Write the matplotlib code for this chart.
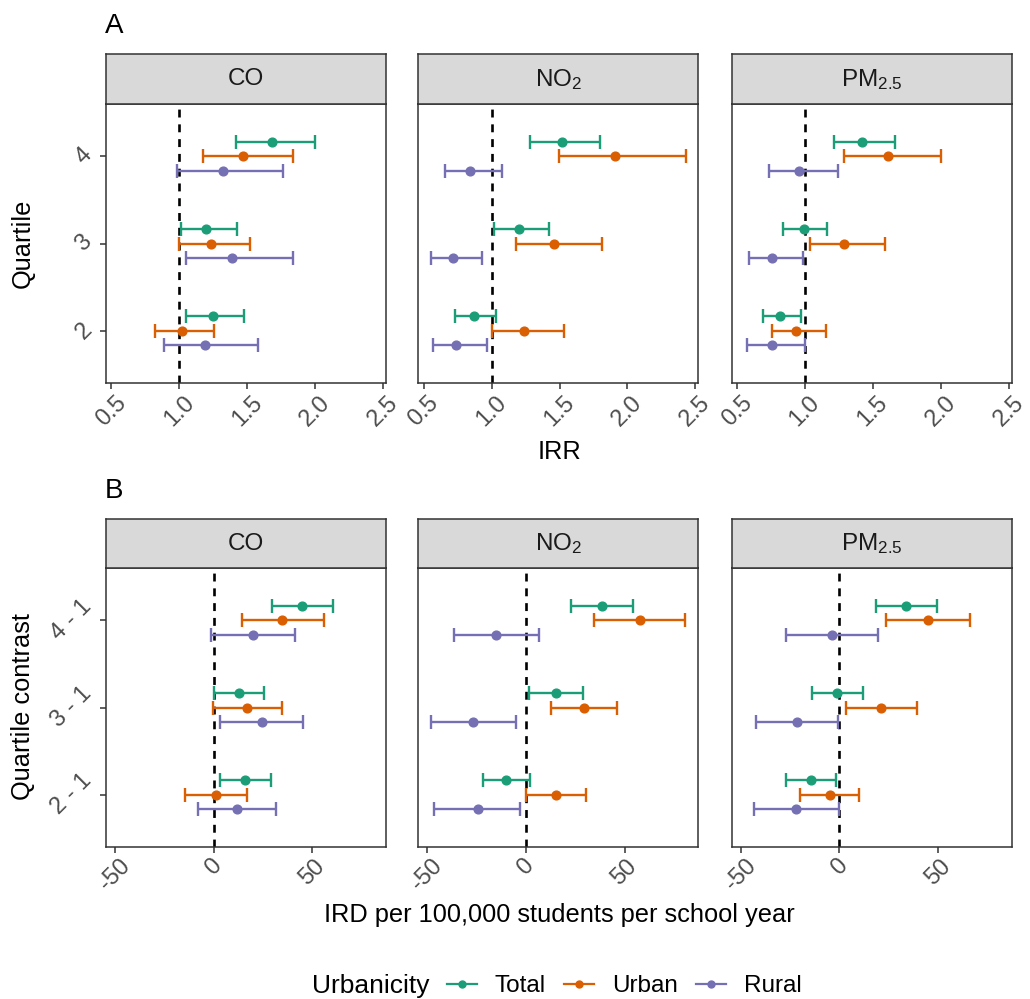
import matplotlib
matplotlib.use('Agg')
import matplotlib.pyplot as plt
import matplotlib.transforms as mtransforms
from matplotlib.lines import Line2D
import numpy as np

plt.rcParams['font.family'] = ['Liberation Sans', 'DejaVu Sans']
plt.rcParams['mathtext.fontset'] = 'custom'
plt.rcParams['mathtext.rm'] = 'Liberation Sans'
plt.rcParams['mathtext.default'] = 'regular'

# categories
pollutants = ['CO', 'NO$_2$', 'PM$_{2.5}$']
groups = ['Total', 'Urban', 'Rural']
colors = ['#1B9E77', '#D95F02', '#7570B3']
quartile_labels = ['2', '3', '4']
contrast_labels = ['2 - 1', '3 - 1', '4 - 1']

# panel A: IRR, rows = quartile 2,3,4 ; cols = Total, Urban, Rural
irr_co_est = [[1.247, 1.017, 1.19], [1.197, 1.232, 1.385], [1.679, 1.469, 1.321]]
irr_co_lo = [[1.052, 0.822, 0.889], [1.01, 0.997, 1.05], [1.417, 1.173, 0.985]]
irr_co_hi = [[1.479, 1.256, 1.58], [1.424, 1.519, 1.837], [2.0, 1.837, 1.76]]

irr_no2_est = [[0.868, 1.24, 0.74], [1.203, 1.458, 0.718], [1.517, 1.907, 0.843]]
irr_no2_lo = [[0.73, 1.004, 0.566], [1.019, 1.176, 0.554], [1.282, 1.493, 0.659]]
irr_no2_hi = [[1.029, 1.532, 0.965], [1.424, 1.813, 0.931], [1.796, 2.431, 1.076]]

irr_pm_est = [[0.818, 0.936, 0.757], [0.99, 1.287, 0.757], [1.421, 1.61, 0.954]]
irr_pm_lo = [[0.691, 0.757, 0.576], [0.841, 1.039, 0.588], [1.216, 1.289, 0.735]]
irr_pm_hi = [[0.973, 1.152, 0.998], [1.164, 1.59, 0.988], [1.664, 2.002, 1.243]]

# panel B: IRD, rows = contrast 2-1, 3-1, 4-1
ird_co_est = [[16.0, 1.0, 11.8], [13.0, 16.9, 24.3], [44.8, 34.8, 19.9]]
ird_co_lo = [[3.4, -14.7, -8.0], [0.3, -0.2, 3.4], [29.7, 14.2, -1.2]]
ird_co_hi = [[28.9, 16.9, 31.6], [25.6, 34.6, 45.3], [60.3, 55.8, 41.1]]

ird_no2_est = [[-9.9, 15.4, -24.5], [15.2, 29.3, -26.6], [38.4, 57.6, -15.0]]
ird_no2_lo = [[-21.9, 0.2, -46.8], [1.7, 12.5, -48.1], [22.7, 34.7, -36.5]]
ird_no2_hi = [[2.0, 30.2, -3.0], [29.0, 46.2, -5.2], [54.4, 80.8, 6.6]]

ird_pm_est = [[-14.3, -4.7, -21.7], [-1.0, 21.2, -21.5], [33.8, 45.0, -3.7]]
ird_pm_lo = [[-26.8, -19.7, -43.4], [-13.6, 3.2, -42.4], [18.5, 23.4, -26.8]]
ird_pm_hi = [[-1.5, 10.1, -0.2], [12.1, 39.1, -0.5], [49.5, 66.4, 19.4]]

W, H = 1030, 999
fig = plt.figure(figsize=(W / 100, H / 100), dpi=100)

col_x = [106, 418.3, 731.7]
col_w = 280
grey = '#4D4D4D'
dodge = [0.167, 0.0, -0.167]


def fx(px):
    return px / W


def fy(py):
    return 1 - py / H


def draw_row(top_strip, top_plot, bottom_plot, data, ref, xlim, xticks, xticklabels, ylabels):
    axes = []
    for i, (est, lo, hi) in enumerate(data):
        ax = fig.add_axes([fx(col_x[i]), fy(bottom_plot), col_w / W, (bottom_plot - top_plot) / H])
        sax = fig.add_axes([fx(col_x[i]), fy(top_plot), col_w / W, (top_plot - top_strip) / H])
        sax.set_facecolor('#D9D9D9')
        sax.set_xticks([])
        sax.set_yticks([])
        for s in sax.spines.values():
            s.set_color('#333333')
            s.set_linewidth(1.1)
        sax.text(0.5, 0.5, pollutants[i], ha='center', va='center', fontsize=17.5,
                 color='#1A1A1A', transform=sax.transAxes)

        ax.axvline(ref, color='black', linestyle=(0, (3, 2.6)), linewidth=1.9, zorder=1)
        est = np.array(est)
        lo = np.array(lo)
        hi = np.array(hi)
        for g in range(3):
            y = np.arange(1, 4) + dodge[g]
            ax.errorbar(est[:, g], y, xerr=[est[:, g] - lo[:, g], hi[:, g] - est[:, g]],
                        fmt='o', color=colors[g], markersize=6.3, capsize=5, elinewidth=1.7,
                        capthick=1.7, zorder=3)
        ax.set_xlim(xlim)
        ax.set_ylim(0.4, 3.6)
        ax.set_xticks(xticks)
        ax.set_xticklabels(xticklabels, rotation=45, fontsize=17, color=grey, ha='center')
        offset = mtransforms.ScaledTranslation(10 / 100, 0, fig.dpi_scale_trans)
        for lab in ax.get_xticklabels():
            lab.set_transform(lab.get_transform() + offset)
        ax.set_yticks([1, 2, 3])
        if i == 0:
            ax.set_yticklabels(ylabels, rotation=45, fontsize=17, color=grey, va='center')
            ax.tick_params(axis='y', length=4, width=1.1, color='#333333', pad=3)
        else:
            ax.tick_params(axis='y', left=False, labelleft=False)
        ax.tick_params(axis='x', length=4, width=1.1, color='#333333', pad=2)
        for s in ax.spines.values():
            s.set_color('#333333')
            s.set_linewidth(1.1)
        axes.append(ax)
    return axes


draw_row(54.3, 104, 383,
         [(irr_co_est, irr_co_lo, irr_co_hi), (irr_no2_est, irr_no2_lo, irr_no2_hi),
          (irr_pm_est, irr_pm_lo, irr_pm_hi)],
         1.0, (0.46, 2.522), [0.5, 1.0, 1.5, 2.0, 2.5], ['0.5', '1.0', '1.5', '2.0', '2.5'],
         quartile_labels)

draw_row(519, 568.3, 846.7,
         [(ird_co_est, ird_co_lo, ird_co_hi), (ird_no2_est, ird_no2_lo, ird_no2_hi),
          (ird_pm_est, ird_pm_lo, ird_pm_hi)],
         0.0, (-54.5, 87.3), [-50, 0, 50], ['-50', '0', '50'],
         contrast_labels)

# panel letters and axis titles
fig.text(fx(105), fy(26), 'A', fontsize=20, va='center', ha='left')
fig.text(fx(105), fy(491), 'B', fontsize=20, va='center', ha='left')
fig.text(fx(559), fy(452), 'IRR', fontsize=18.3, ha='center', va='center')
fig.text(fx(559), fy(915), 'IRD per 100,000 students per school year', fontsize=18.3,
         ha='center', va='center')
fig.text(fx(23), fy(243), 'Quartile', fontsize=18.3, rotation=90, ha='center', va='center')
fig.text(fx(23), fy(707), 'Quartile contrast', fontsize=18.3, rotation=90, ha='center', va='center')

# legend
fig.text(fx(312), fy(986), 'Urbanicity', fontsize=19, ha='left', va='center')
handles = [Line2D([0], [0], color=c, marker='o', markersize=5, linewidth=1.6) for c in colors]
fig.legend(handles, groups, loc='center left', bbox_to_anchor=(fx(447), fy(986)), ncol=3,
           frameon=False, fontsize=17.5, handlelength=1.23, handletextpad=0.74,
           columnspacing=0.74, borderpad=0, borderaxespad=0)

fig.savefig('out.png', dpi=100)
